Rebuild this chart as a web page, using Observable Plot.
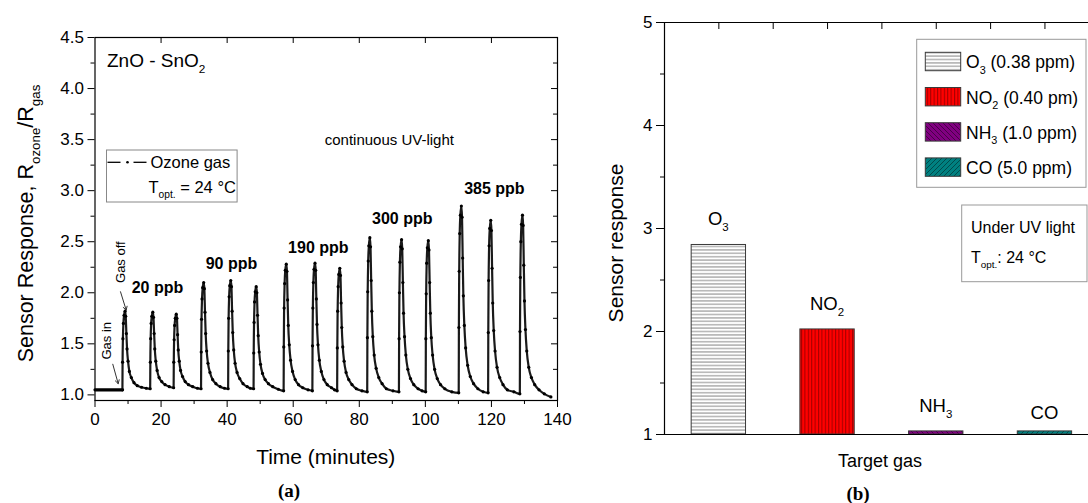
<!DOCTYPE html>
<html><head><meta charset="utf-8">
<script src="https://cdn.jsdelivr.net/npm/d3@7"></script>
<script src="https://cdn.jsdelivr.net/npm/@observablehq/plot@0.6"></script>
<style>
html,body{margin:0;padding:0;background:#fff;}
#wrap{position:relative;width:1088px;height:503px;overflow:hidden;font-family:"Liberation Sans",Arial,sans-serif;background:#fff;}
#a,#b{position:absolute;top:0;}
#a{left:0}#b{left:580px}
.cap{position:absolute;width:100px;text-align:center;font:bold 19px/19px "Liberation Serif","DejaVu Serif",serif;color:#000;}
</style></head><body>
<div id="wrap"><div id="a"></div><div id="b"></div>
<div class="cap" style="left:239px;top:481px">(a)</div>
<div class="cap" style="left:808px;top:484px">(b)</div></div>
<script>
const FONT = '"Liberation Sans", Arial, sans-serif';

// ---------- Panel (a) data: time (min), response R_ozone/R_gas ----------
const baseline = [[0,1.05],[8.3,1.05]];
const ppb20 = [
[8.3,1.05],[8.35,1.32],[8.45,1.55],[8.6,1.70],[8.8,1.78],[9.1,1.82],[9.3,1.77],[9.5,1.60],[9.7,1.45],[10.0,1.33],[10.4,1.23],[11.0,1.17],[11.8,1.12],[12.8,1.09],[14.1,1.075],[15.5,1.065],
[16.7,1.06],[16.75,1.32],[16.85,1.55],[17.0,1.70],[17.2,1.77],[17.5,1.81],[17.7,1.76],[17.9,1.60],[18.1,1.45],[18.4,1.33],[18.8,1.24],[19.4,1.17],[20.2,1.13],[21.2,1.10],[22.5,1.08],
[23.8,1.07],[23.85,1.32],[23.95,1.54],[24.1,1.68],[24.3,1.75],[24.6,1.79],[24.8,1.75],[25.0,1.59],[25.2,1.44],[25.5,1.33],[25.9,1.24],[26.5,1.18],[27.3,1.13],[28.3,1.10],[29.6,1.08],[31.0,1.065]
];
const ppb90 = [
[32.1,1.06],[32.15,1.42],[32.25,1.74],[32.4,1.94],[32.6,2.05],[32.9,2.10],[33.1,2.04],[33.3,1.81],[33.5,1.60],[33.8,1.43],[34.2,1.31],[34.8,1.22],[35.6,1.15],[36.6,1.11],[37.9,1.08],[39.2,1.065],
[40.3,1.06],[40.35,1.43],[40.45,1.75],[40.6,1.96],[40.8,2.07],[41.1,2.12],[41.3,2.06],[41.5,1.82],[41.7,1.61],[42.0,1.44],[42.4,1.31],[43.0,1.22],[43.8,1.16],[44.8,1.11],[46.1,1.08],[47.0,1.065],
[48.0,1.06],[48.05,1.41],[48.15,1.71],[48.3,1.91],[48.5,2.01],[48.8,2.06],[49.0,2.00],[49.2,1.78],[49.4,1.58],[49.7,1.42],[50.1,1.30],[50.7,1.21],[51.5,1.15],[52.5,1.11],[53.8,1.08],[55.5,1.055]
];
const ppb190 = [
[57.1,1.04],[57.15,1.47],[57.25,1.85],[57.4,2.09],[57.6,2.22],[57.9,2.28],[58.1,2.21],[58.3,1.93],[58.5,1.68],[58.8,1.49],[59.2,1.34],[59.8,1.23],[60.6,1.15],[61.6,1.10],[62.9,1.07],[64.5,1.05],
[65.8,1.04],[65.85,1.48],[65.95,1.85],[66.1,2.10],[66.3,2.23],[66.6,2.29],[66.8,2.22],[67.0,1.94],[67.2,1.69],[67.5,1.49],[67.9,1.34],[68.5,1.23],[69.3,1.15],[70.3,1.10],[71.6,1.07],[72.5,1.05],
[73.3,1.04],[73.35,1.46],[73.45,1.82],[73.6,2.06],[73.8,2.18],[74.1,2.24],[74.3,2.17],[74.5,1.90],[74.7,1.66],[75.0,1.47],[75.4,1.33],[76.0,1.22],[76.8,1.15],[77.8,1.10],[79.1,1.06],[80.8,1.04]
];
const ppb300 = [
[82.4,1.03],[82.45,1.56],[82.55,2.01],[82.7,2.31],[82.9,2.46],[83.2,2.54],[83.4,2.45],[83.6,2.12],[83.8,1.82],[84.1,1.57],[84.5,1.39],[85.1,1.26],[85.9,1.17],[86.9,1.11],[88.2,1.06],[90.2,1.04],
[92.0,1.03],[92.05,1.55],[92.15,2.00],[92.3,2.30],[92.5,2.45],[92.8,2.52],[93.0,2.43],[93.2,2.10],[93.4,1.80],[93.7,1.57],[94.1,1.39],[94.7,1.25],[95.5,1.16],[96.5,1.10],[97.8,1.06],[99.0,1.04],
[100.1,1.03],[100.15,1.55],[100.25,1.99],[100.4,2.29],[100.6,2.44],[100.9,2.51],[101.1,2.42],[101.3,2.10],[101.5,1.80],[101.8,1.56],[102.2,1.39],[102.8,1.25],[103.6,1.16],[104.6,1.10],[105.9,1.06],[108.0,1.03]
];
const ppb385 = [
[110.1,1.02],[110.15,1.66],[110.25,2.21],[110.4,2.58],[110.6,2.76],[110.9,2.85],[111.1,2.74],[111.3,2.34],[111.5,1.97],[111.8,1.68],[112.2,1.46],[112.8,1.29],[113.6,1.18],[114.6,1.11],[115.9,1.06],[117.5,1.03],
[119.0,1.02],[119.05,1.61],[119.15,2.12],[119.3,2.46],[119.5,2.63],[119.8,2.71],[120.0,2.61],[120.2,2.24],[120.4,1.90],[120.7,1.63],[121.1,1.43],[121.7,1.27],[122.5,1.17],[123.5,1.10],[124.8,1.05],[126.8,1.03],
[128.6,1.01],[128.65,1.62],[128.75,2.15],[128.9,2.50],[129.1,2.67],[129.4,2.76],[129.6,2.66],[129.8,2.27],[130.0,1.92],[130.3,1.64],[130.7,1.43],[131.3,1.27],[132.1,1.17],[133.1,1.10],[134.4,1.05],[136.0,1.01],[138.0,0.98]
];
const timeTicks = [0,20,40,60,80,100,120,140];
const timeMinorTicks = [10,30,50,70,90,110,130];
const respTicks = [1.0,1.5,2.0,2.5,3.0,3.5,4.0,4.5];
const respMinorTicks = [1.25,1.75,2.25,2.75,3.25,3.75,4.25];
const concLabels = ["20 ppb","90 ppb","190 ppb","300 ppb","385 ppb"];
const concLabelTime = [18.9,41.3,67.6,93.0,120.9];
const concLabelResp = [2.05,2.28,2.44,2.72,3.02];
const eventLabels = ["Gas in","Gas off"];
const eventLabelTime = [3.7,7.7];
const eventLabelResp = [1.53,2.30];
const eventArrowFrom = [[5.39,1.30],[7.72,2.01]];
const eventArrowTo = [[7.02,1.11],[9.44,1.83]];
const uvNote = ["continuous UV-light"];
const uvNoteTime = [89.1];
const uvNoteResp = [3.49];

// ---------- Panel (b) data ----------
const gases = ["O3","NO2","NH3","CO"];
const gasResponse = [2.84,2.02,1.03,1.03];
const gasConc = ["0.38 ppm","0.40 pm","1.0 ppm","5.0 ppm"];
const gasTicks = [1,2,3,4,5];
const gasMinorTicks = [1.5,2.5,3.5,4.5];
const gasTopTicks = [1,1.5,2,2.5,3,3.5,4,4.5];

// ---------- helpers ----------
function rich(sel, x, y, parts, {size=16, anchor="start", weight="normal", rotate=0, fill="#000"}={}) {
  const t = sel.append("text")
    .attr("font-family", FONT).attr("font-size", size).attr("font-weight", weight)
    .attr("text-anchor", anchor).attr("fill", fill);
  if (rotate) t.attr("transform", `translate(${x},${y}) rotate(${rotate})`);
  else t.attr("x", x).attr("y", y);
  let shift = 0;
  for (const [s, kind] of parts) {
    const ts = t.append("tspan").text(s);
    const target = kind === "sub" ? size * 0.32 : kind === "sup" ? -size * 0.38 : 0;
    if (target - shift !== 0) ts.attr("dy", target - shift);
    shift = target;
    if (kind) ts.attr("font-size", size * 0.62);
  }
  return t;
}
const chem = name => name.split(/(\d+)/).filter(s => s.length).map(s => /^\d+$/.test(s) ? [s, "sub"] : [s]);

// ---------- Panel (a) ----------
const W1 = 580, H1 = 470, mL1 = 94.5, mR1 = 23, mT1 = 37, mB1 = 70;
const fH1 = H1 - mT1 - mB1, fW1 = W1 - mL1 - mR1;
const toRows = arr => arr.map(([t, v]) => ({t, v}));
const trace = toRows([...ppb20, ...ppb90, ...ppb190, ...ppb300, ...ppb385]);
const concTable = concLabels.map((label, i) => ({label, t: concLabelTime[i], v: concLabelResp[i]}));
const eventTable = eventLabels.map((label, i) => ({label, t: eventLabelTime[i], v: eventLabelResp[i]}));
const arrowTable = eventArrowFrom.map((f, i) => ({x1: f[0], y1: f[1], x2: eventArrowTo[i][0], y2: eventArrowTo[i][1]}));
const uvTable = uvNote.map((label, i) => ({label, t: uvNoteTime[i], v: uvNoteResp[i]}));

const plotA = Plot.plot({
  width: W1, height: H1, marginLeft: mL1, marginRight: mR1, marginTop: mT1, marginBottom: mB1,
  x: {domain: [0, 140], axis: null},
  y: {domain: [0.945, 4.5], axis: null},
  style: {fontFamily: FONT, fontSize: "17px", color: "#000", background: "#fff", overflow: "visible"},
  marks: [
    Plot.axisX(timeTicks, {anchor: "bottom", tickSize: 7, tickPadding: 5, fontSize: 17, label: null}),
    Plot.axisX(timeMinorTicks, {anchor: "bottom", tickSize: 4, tickFormat: () => "", label: null}),
    Plot.axisY(respTicks, {anchor: "left", tickSize: 7, tickPadding: 4, fontSize: 17, tickFormat: d3.format(".1f"), label: null}),
    Plot.axisY(respMinorTicks, {anchor: "left", tickSize: 4, tickFormat: () => "", label: null}),
    Plot.ruleX(timeTicks.slice(1, -1), {insetBottom: fH1 - 6, stroke: "#000"}),
    Plot.ruleY(respTicks.slice(1, -1), {insetLeft: fW1 - 6, stroke: "#000"}),
    Plot.ruleY(respMinorTicks, {insetLeft: fW1 - 4, stroke: "#000"}),
    Plot.line(toRows(baseline), {x: "t", y: "v", stroke: "#000", strokeWidth: 3.2}),
    Plot.line(trace, {x: "t", y: "v", stroke: "#1a1a1a", strokeWidth: 2.2, curve: "monotone-x"}),
    Plot.dot(trace, {x: "t", y: "v", r: 1.6, fill: "#000", stroke: "none"}),
    Plot.text(concTable, {x: "t", y: "v", text: "label", fontWeight: "bold", fontSize: 16, textAnchor: "middle", lineAnchor: "middle", fill: "#000"}),
    Plot.text(eventTable, {x: "t", y: "v", text: "label", rotate: -90, fontSize: 13, textAnchor: "middle", lineAnchor: "middle", fill: "#000"}),
    Plot.arrow(arrowTable, {x1: "x1", y1: "y1", x2: "x2", y2: "y2", stroke: "#333", strokeWidth: 1, headLength: 6}),
    Plot.text(uvTable, {x: "t", y: "v", text: "label", fontSize: 15, textAnchor: "middle", lineAnchor: "middle", fill: "#000"}),
    Plot.frame({stroke: "#000", strokeWidth: 1.2})
  ]
});
document.getElementById("a").appendChild(plotA);
const sa = d3.select(plotA);
rich(sa, mL1 + 12.5, 66.7, [["ZnO - SnO"], ["2", "sub"]], {size: 19});
// legend box
sa.append("rect").attr("x", mL1 + 12).attr("y", 150).attr("width", 130.6).attr("height", 52)
  .attr("fill", "#fff").attr("stroke", "#888").attr("stroke-width", 1);
const ly = 162.3, lx = mL1 + 13;
sa.append("line").attr("x1", lx).attr("x2", lx + 13).attr("y1", ly).attr("y2", ly).attr("stroke", "#000").attr("stroke-width", 1.3);
sa.append("circle").attr("cx", lx + 20).attr("cy", ly).attr("r", 1.3).attr("fill", "#000");
sa.append("line").attr("x1", lx + 26).attr("x2", lx + 39).attr("y1", ly).attr("y2", ly).attr("stroke", "#000").attr("stroke-width", 1.3);
rich(sa, lx + 43, 167.5, [["Ozone gas"]], {size: 16.5});
rich(sa, lx + 41, 193, [["T"], ["opt.", "sub"], [" = 24 °C"]], {size: 16.5});
// axis titles
rich(sa, mL1 + fW1 / 2, 464, [["Time (minutes)"]], {size: 21, anchor: "middle"});
rich(sa, 33, mT1 + fH1 / 2 + 5, [["Sensor Response, R"], ["ozone", "sub"], ["/R"], ["gas", "sub"]], {size: 21.5, anchor: "middle", rotate: -90});

// ---------- Panel (b) ----------
const W2 = 508, H2 = 470, mL2 = 84, mT2 = 22, mB2 = 36;
const fH2 = H2 - mT2 - mB2;
const step = 108.7;
const barTable = gases.map((g, i) => ({gas: g, x1: i + 0.75, x2: i + 1.25, pos: i + 1, value: gasResponse[i], fill: `url(#pat-${g})`}));

const plotB = Plot.plot({
  width: W2, height: H2, marginLeft: mL2, marginRight: 0, marginTop: mT2, marginBottom: mB2,
  x: {type: "linear", domain: [0.5, 4.5], range: [mL2, mL2 + 4 * step], axis: null},
  y: {domain: [1, 5], axis: null},
  color: {type: "identity"},
  style: {fontFamily: FONT, fontSize: "17px", color: "#000", background: "#fff", overflow: "visible"},
  marks: [
    Plot.rect(barTable, {x1: "x1", x2: "x2", y1: 1, y2: "value", fill: "fill", stroke: "#3a3a3a", strokeWidth: 1}),
    Plot.axisY(gasTicks, {anchor: "left", tickSize: 8, tickPadding: 4, fontSize: 17, tickFormat: d3.format("d"), label: null}),
    Plot.axisY(gasMinorTicks, {anchor: "left", tickSize: 4, tickFormat: () => "", label: null}),
    Plot.ruleX(gasTopTicks, {insetBottom: fH2 - 7, stroke: "#000"}),
    Plot.ruleX([0.5], {stroke: "#000", strokeWidth: 1.2}),
    Plot.ruleY([1, 5], {stroke: "#000", strokeWidth: 1.2})
  ]
});
document.getElementById("b").appendChild(plotB);
const sb = d3.select(plotB);
// hatch patterns
const defs = sb.insert("defs", ":first-child");
const pO3 = defs.append("pattern").attr("id", "pat-O3").attr("patternUnits", "userSpaceOnUse").attr("width", 6).attr("height", 3.4);
pO3.append("rect").attr("width", 6).attr("height", 3.4).attr("fill", "#fff");
pO3.append("line").attr("x1", 0).attr("x2", 6).attr("y1", 1.7).attr("y2", 1.7).attr("stroke", "#8a8a8a").attr("stroke-width", 1);
const pNO2 = defs.append("pattern").attr("id", "pat-NO2").attr("patternUnits", "userSpaceOnUse").attr("width", 3.4).attr("height", 6);
pNO2.append("rect").attr("width", 3.4).attr("height", 6).attr("fill", "#ff0000");
pNO2.append("line").attr("x1", 0.6).attr("x2", 0.6).attr("y1", 0).attr("y2", 6).attr("stroke", "#7a0000").attr("stroke-width", 0.8);
const pNH3 = defs.append("pattern").attr("id", "pat-NH3").attr("patternUnits", "userSpaceOnUse").attr("width", 5).attr("height", 5);
pNH3.append("rect").attr("width", 5).attr("height", 5).attr("fill", "#800080");
pNH3.append("path").attr("d", "M0,0L5,5M-1,4L1,6M4,-1L6,1").attr("stroke", "#3a003a").attr("stroke-width", 0.8);
const pCO = defs.append("pattern").attr("id", "pat-CO").attr("patternUnits", "userSpaceOnUse").attr("width", 5).attr("height", 5);
pCO.append("rect").attr("width", 5).attr("height", 5).attr("fill", "#008080");
pCO.append("path").attr("d", "M0,5L5,0M-1,1L1,-1M4,6L6,4").attr("stroke", "#003d3d").attr("stroke-width", 0.8);

const sxB = plotB.scale("x"), syB = plotB.scale("y");
barTable.forEach(d => {
  const hasSub = /\d/.test(d.gas);
  rich(sb, sxB.apply(d.pos), syB.apply(d.value) - (hasSub ? 19 : 12), chem(d.gas), {size: 18.5, anchor: "middle"});
});
// legend
sb.append("rect").attr("x", 336.7).attr("y", 39.3).attr("width", 169.3).attr("height", 148)
  .attr("fill", "#fff").attr("stroke", "#999").attr("stroke-width", 1);
gases.forEach((g, i) => {
  const ry = 52.3 + i * 35.2;
  sb.append("rect").attr("x", 345.3).attr("y", ry).attr("width", 35.4).attr("height", 18.4)
    .attr("fill", `url(#pat-${g})`).attr("stroke", "#3a3a3a").attr("stroke-width", 1);
  rich(sb, 386, ry + 16, chem(g).concat([[` (${gasConc[i]})`]]), {size: 17.5});
});
// UV note box
sb.append("rect").attr("x", 381.7).attr("y", 205).attr("width", 125.3).attr("height", 76.7)
  .attr("fill", "#fff").attr("stroke", "#999").attr("stroke-width", 1);
rich(sb, 391, 233, [["Under UV light"]], {size: 16});
rich(sb, 391, 263, [["T"], ["opt.", "sub"], [": 24 °C"]], {size: 16});
// axis titles
rich(sb, 300, 467, [["Target gas"]], {size: 18, anchor: "middle"});
rich(sb, 43, 243, [["Sensor response"]], {size: 21, anchor: "middle", rotate: -90});
</script></body></html>
